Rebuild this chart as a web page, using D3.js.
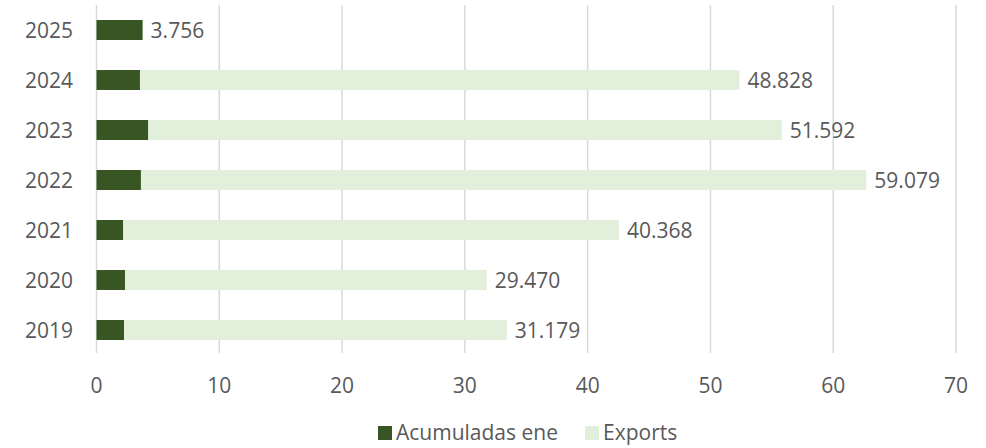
<!DOCTYPE html>
<html>
<head>
<meta charset="utf-8">
<script src="https://cdn.jsdelivr.net/npm/d3@7"></script>
<style>
  body { margin: 0; background: #fff; }
  svg text { font-family: "Open Sans", sans-serif; fill: #595959; font-size: 21px; }
</style>
</head>
<body>
<svg id="chart" width="986" height="448"></svg>
<script>
// chart data
const years = ["2019", "2020", "2021", "2022", "2023", "2024", "2025"];
const acumuladas = [2.24, 2.32, 2.18, 3.62, 4.22, 3.54, 3.756];
const exportsVals = [31.179, 29.470, 40.368, 59.079, 51.592, 48.828, 0];
const labels = ["31.179", "29.470", "40.368", "59.079", "51.592", "48.828", "3.756"];
const xTicks = [0, 10, 20, 30, 40, 50, 60, 70];
const seriesNames = ["Acumuladas ene", "Exports"];

let svg = d3.select("#chart"),
    colorDark = "#375623",
    colorLight = "#E2EFDA",
    colorGrid = "#D9D9D9";

// scales
let x = d3.scaleLinear().domain([0, 70]).range([96.5, 956]),
    y = d3.scaleBand().domain(years.slice().reverse()).range([5, 355])
          .paddingInner(0.6).paddingOuter(0.3);

let data = years.map(function(d, i) {
  return { year: d, acum: acumuladas[i], exp: exportsVals[i], label: labels[i] };
});

// gridlines
let grid = svg.append("g").attr("class", "grid");
grid.selectAll("line")
  .data(xTicks)
  .enter().append("line")
  .attr("x1", function(d) { return x(d); })
  .attr("x2", function(d) { return x(d); })
  .attr("y1", 5)
  .attr("y2", 353)
  .attr("stroke", colorGrid)
  .attr("stroke-width", 1.5);

// x tick labels
svg.append("g").selectAll("text")
  .data(xTicks)
  .enter().append("text")
  .attr("x", function(d) { return x(d); })
  .attr("y", 393)
  .attr("text-anchor", "middle")
  .text(function(d) { return d; });

// y labels
svg.append("g").selectAll("text")
  .data(data)
  .enter().append("text")
  .attr("x", 73)
  .attr("y", function(d) { return y(d.year) + y.bandwidth() / 2 + 8; })
  .attr("text-anchor", "end")
  .text(function(d) { return d.year; });

// stacked bars
let bars = svg.append("g").selectAll("g")
  .data(data)
  .enter().append("g");

bars.append("rect")
  .attr("x", x(0))
  .attr("y", function(d) { return y(d.year); })
  .attr("height", y.bandwidth())
  .attr("width", function(d) { return x(d.acum) - x(0); })
  .attr("fill", colorDark);

bars.filter(function(d) { return d.exp > 0; })
  .append("rect")
  .attr("x", function(d) { return x(d.acum); })
  .attr("y", function(d) { return y(d.year); })
  .attr("height", y.bandwidth())
  .attr("width", function(d) { return x(d.acum + d.exp) - x(d.acum); })
  .attr("fill", colorLight);

// value labels
bars.append("text")
  .attr("x", function(d) { return x(d.acum + d.exp) + 8; })
  .attr("y", function(d) { return y(d.year) + y.bandwidth() / 2 + 8; })
  .text(function(d) { return d.label; });

// legend
let legend = svg.append("g").attr("class", "legend");
let legendX = [378, 585];
legend.selectAll("rect")
  .data(seriesNames)
  .enter().append("rect")
  .attr("x", function(d, i) { return legendX[i]; })
  .attr("y", 426)
  .attr("width", 14)
  .attr("height", 14)
  .attr("fill", function(d, i) { return i === 0 ? colorDark : colorLight; });
legend.selectAll("text")
  .data(seriesNames)
  .enter().append("text")
  .attr("x", function(d, i) { return legendX[i] + 18; })
  .attr("y", 440)
  .text(function(d) { return d; });
</script>
</body>
</html>
